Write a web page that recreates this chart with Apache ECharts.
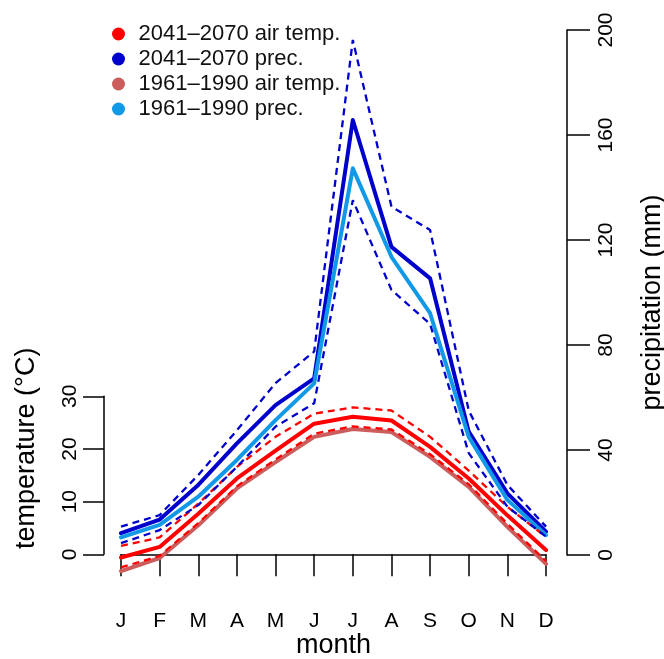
<!DOCTYPE html>
<html>
<head>
<meta charset="utf-8">
<script src="https://cdn.jsdelivr.net/npm/echarts@6/dist/echarts.min.js"></script>
<style>
html,body{margin:0;padding:0;background:#fff;}
#chart{width:664px;height:659px;}
</style>
</head>
<body>
<div id="chart"></div>
<script>
const months = ['J','F','M','A','M','J','J','A','S','O','N','D'];
const tempTicks = [0, 10, 20, 30];
const precTicks = [0, 40, 80, 120, 160, 200];

const temp2041 = [-0.6, 1.4, 7.7, 14.4, 19.7, 24.8, 26.1, 25.4, 20.4, 14.4, 7.4, 0.8];
const temp2041Upper = [1.6, 3.2, 9.6, 16.6, 22.3, 26.7, 27.9, 27.3, 22.3, 15.9, 9.0, 3.3];
const temp2041Lower = [-2.5, -0.3, 5.9, 12.9, 18.0, 22.9, 24.3, 23.7, 19.0, 13.3, 5.8, -1.3];
const temp1961 = [-3.2, -0.7, 5.5, 12.5, 17.5, 22.3, 23.8, 23.2, 18.5, 12.8, 5.2, -1.8];

const prec2041 = [8.3, 13.5, 26.7, 42.5, 57.1, 67.3, 165.7, 117.4, 105.4, 47.0, 23.5, 8.9];
const prec2041Upper = [10.8, 15.2, 30.5, 47.5, 65.5, 77.5, 196.2, 132.7, 123.8, 55.0, 26.7, 10.8];
const prec2041Lower = [4.5, 9.5, 19.0, 33.6, 48.9, 57.8, 135.2, 101.0, 88.0, 38.8, 18.4, 7.0];
const prec1961 = [6.7, 11.5, 22.2, 36.2, 51.4, 65.4, 147.3, 113.6, 92.1, 45.0, 21.0, 7.6];

const legendNames = ['2041\u20132070 air temp.', '2041\u20132070 prec.', '1961\u20131990 air temp.', '1961\u20131990 prec.'];

const FONT = "'Liberation Sans', Arial, Helvetica, sans-serif";
const RED = '#FF0000', DBLUE = '#0000CD', IRED = '#CD5C5C', LBLUE = '#1199E8';

const chart = echarts.init(document.getElementById('chart'), null, {renderer: 'canvas'});

function solid(name, data, color, xi, yi, z) {
  return {name, type: 'line', data, xAxisIndex: xi, yAxisIndex: yi, symbol: 'none', clip: false, z,
    color, itemStyle: {color}, lineStyle: {color, width: 4, cap: 'round', join: 'round'}, emphasis: {disabled: true}};
}
function dashed(name, data, color, xi, yi, z) {
  return {name, type: 'line', data, xAxisIndex: xi, yAxisIndex: yi, symbol: 'none', clip: false, z,
    color, itemStyle: {color}, lineStyle: {color, width: 2.3, type: [7, 5]}, emphasis: {disabled: true}};
}

const axisCommon = {
  axisLine: {show: true, lineStyle: {color: '#000', width: 1.5}},
  axisTick: {show: true, inside: false, length: 21, lineStyle: {color: '#000', width: 1.5}},
  splitLine: {show: false},
  nameMoveOverlap: false
};

const option = {
  animation: false,
  backgroundColor: '#fff',
  textStyle: {fontFamily: FONT},
  grid: [
    {left: 121, right: 118, top: 396.3, height: 158, outerBoundsMode: 'none', containLabel: false},
    {left: 121, right: 118, top: 30, height: 525, outerBoundsMode: 'none', containLabel: false}
  ],
  legend: {
    show: true, orient: 'vertical', left: 107, top: 18,
    data: legendNames, icon: 'circle', itemWidth: 30, itemHeight: 13, itemGap: 3,
    selectedMode: false,
    textStyle: {fontFamily: FONT, fontSize: 22, color: '#111', lineHeight: 22}
  },
  xAxis: [
    Object.assign({}, axisCommon, {
      gridIndex: 0, type: 'category', data: months, boundaryGap: false, position: 'bottom', offset: 21,
      axisLabel: {show: true, interval: 0, margin: 35, fontSize: 21, color: '#000', fontFamily: FONT},
      axisTick: {show: true, inside: false, length: 22, interval: 0, alignWithLabel: true, lineStyle: {color: '#000', width: 1.5}},
      name: 'month', nameLocation: 'middle', nameGap: 57,
      nameTextStyle: {fontSize: 27, color: '#000', fontFamily: FONT}
    }),
    {gridIndex: 1, type: 'category', data: months, boundaryGap: false, show: false}
  ],
  yAxis: [
    Object.assign({}, axisCommon, {
      gridIndex: 0, type: 'value', min: 0, max: 30, interval: 10, position: 'left', offset: 17,
      axisLabel: {show: true, rotate: 90, margin: 23, fontSize: 21, color: '#000', fontFamily: FONT},
      name: 'temperature (\u00B0C)', nameLocation: 'middle', nameGap: 64, nameRotate: 90,
      nameTextStyle: {fontSize: 27, color: '#000', fontFamily: FONT, padding: [0, 0, 0, 54]}
    }),
    Object.assign({}, axisCommon, {
      gridIndex: 1, type: 'value', min: 0, max: 200, interval: 40, position: 'right', offset: 21,
      axisLabel: {show: true, rotate: 90, margin: 29, fontSize: 21, color: '#000', fontFamily: FONT},
      axisTick: {show: true, inside: false, length: 23, lineStyle: {color: '#000', width: 1.5}},
      name: 'precipitation (mm)', nameLocation: 'middle', nameGap: 72, nameRotate: 90,
      nameTextStyle: {fontSize: 27, color: '#000', fontFamily: FONT, padding: [0, 20, 0, 0]}
    })
  ],
  series: [
    solid(legendNames[1], prec2041, DBLUE, 1, 1, 2),
    solid(legendNames[3], prec1961, LBLUE, 1, 1, 3),
    solid(legendNames[2], temp1961, IRED, 0, 0, 4),
    solid(legendNames[0], temp2041, RED, 0, 0, 5),
    dashed('2041\u20132070 air temp. upper', temp2041Upper, RED, 0, 0, 6),
    dashed('2041\u20132070 air temp. lower', temp2041Lower, RED, 0, 0, 6),
    dashed('2041\u20132070 prec. upper', prec2041Upper, DBLUE, 1, 1, 6),
    dashed('2041\u20132070 prec. lower', prec2041Lower, DBLUE, 1, 1, 6)
  ]
};
chart.setOption(option);
</script>
</body>
</html>
